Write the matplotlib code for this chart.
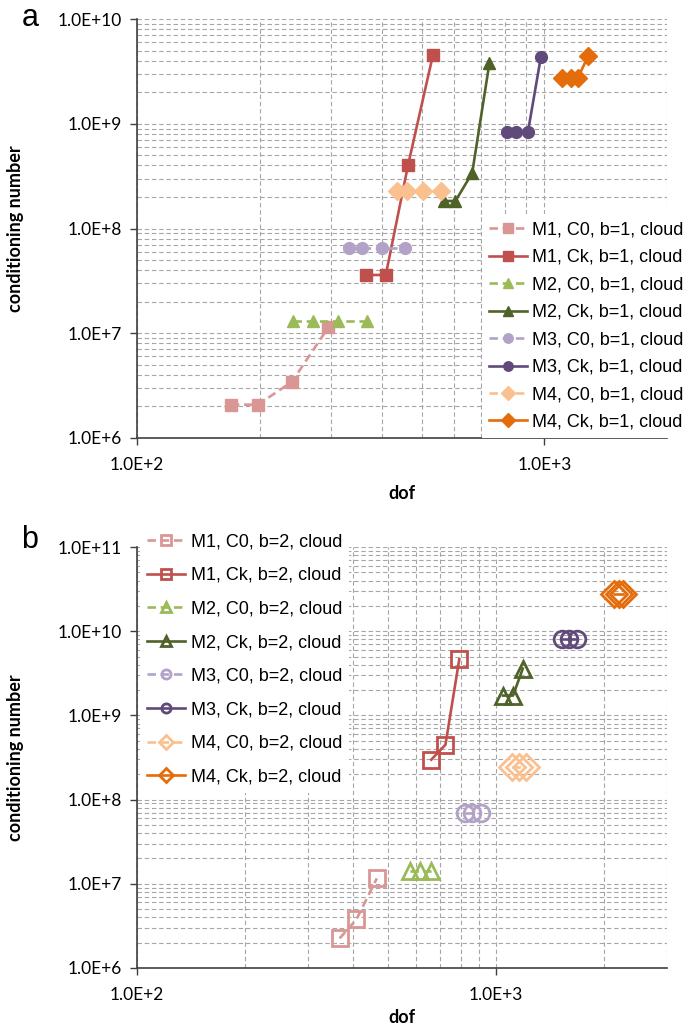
import matplotlib
matplotlib.use("Agg")
import matplotlib.pyplot as plt
from matplotlib.ticker import LogLocator, FuncFormatter, NullFormatter
import numpy as np

# --- panel a data (b=1) ---
a_m1_c0_dof = [170, 198, 240, 295]
a_m1_c0_cond = [2.08e6, 2.08e6, 3.44e6, 1.14e7]
a_m1_ck_dof = [364, 408, 463, 533]
a_m1_ck_cond = [3.6e7, 3.6e7, 4.06e8, 4.58e9]
a_m2_c0_dof = [242, 270, 312, 367]
a_m2_c0_cond = [1.3e7, 1.3e7, 1.3e7, 1.3e7]
a_m2_ck_dof = [567, 605, 665, 733]
a_m2_ck_cond = [1.83e8, 1.83e8, 3.39e8, 3.8e9]
a_m3_c0_dof = [331, 357, 400, 455]
a_m3_c0_cond = [6.5e7, 6.5e7, 6.5e7, 6.5e7]
a_m3_ck_dof = [810, 854, 911, 980]
a_m3_ck_cond = [8.3e8, 8.3e8, 8.3e8, 4.3e9]
a_m4_c0_dof = [435, 460, 504, 558]
a_m4_c0_cond = [2.3e8, 2.3e8, 2.3e8, 2.3e8]
a_m4_ck_dof = [1104, 1164, 1210, 1281]
a_m4_ck_cond = [2.76e9, 2.76e9, 2.76e9, 4.45e9]

# --- panel b data (b=2) ---
b_m1_c0_dof = [367, 409, 466]
b_m1_c0_cond = [2.25e6, 3.78e6, 1.16e7]
b_m1_ck_dof = [661, 724, 791]
b_m1_ck_cond = [2.98e8, 4.49e8, 4.64e9]
b_m2_c0_dof = [575, 614, 658]
b_m2_c0_cond = [1.41e7, 1.41e7, 1.41e7]
b_m2_ck_dof = [1047, 1117, 1189]
b_m2_ck_cond = [1.72e9, 1.72e9, 3.6e9]
b_m3_c0_dof = [822, 861, 912]
b_m3_c0_cond = [6.95e7, 6.95e7, 6.95e7]
b_m3_ck_dof = [1531, 1603, 1679]
b_m3_ck_cond = [7.98e9, 7.98e9, 7.98e9]
b_m4_c0_dof = [1109, 1161, 1216]
b_m4_c0_cond = [2.44e8, 2.44e8, 2.44e8]
b_m4_ck_dof = [2138, 2198, 2265]
b_m4_ck_cond = [2.75e10, 2.75e10, 2.75e10]

labels_a = ["M1, C0, b=1, cloud", "M1, Ck, b=1, cloud", "M2, C0, b=1, cloud", "M2, Ck, b=1, cloud",
            "M3, C0, b=1, cloud", "M3, Ck, b=1, cloud", "M4, C0, b=1, cloud", "M4, Ck, b=1, cloud"]
labels_b = [s.replace("b=1", "b=2") for s in labels_a]

colors = ["#D99694", "#C0504D", "#9BBB59", "#4F6228", "#B3A2C7", "#604A7B", "#FAC090", "#E46C0A"]
markers = ["s", "s", "^", "^", "o", "o", "D", "D"]
dashed = (0, (3.2, 1.8))
styles = [dashed, "-", dashed, "-", dashed, "-", dashed, "-"]

series_a = [(a_m1_c0_dof, a_m1_c0_cond), (a_m1_ck_dof, a_m1_ck_cond),
            (a_m2_c0_dof, a_m2_c0_cond), (a_m2_ck_dof, a_m2_ck_cond),
            (a_m3_c0_dof, a_m3_c0_cond), (a_m3_ck_dof, a_m3_ck_cond),
            (a_m4_c0_dof, a_m4_c0_cond), (a_m4_ck_dof, a_m4_ck_cond)]
series_b = [(b_m1_c0_dof, b_m1_c0_cond), (b_m1_ck_dof, b_m1_ck_cond),
            (b_m2_c0_dof, b_m2_c0_cond), (b_m2_ck_dof, b_m2_ck_cond),
            (b_m3_c0_dof, b_m3_c0_cond), (b_m3_ck_dof, b_m3_ck_cond),
            (b_m4_c0_dof, b_m4_c0_cond), (b_m4_ck_dof, b_m4_ck_cond)]

W, H = 691, 1031
fig = plt.figure(figsize=(W / 100, H / 100), dpi=100)

def px_axes(left, top, right, bottom):
    return fig.add_axes([left / W, 1 - bottom / H, (right - left) / W, (bottom - top) / H])

ax_a = px_axes(137, 19, 667, 438)
ax_b = px_axes(137, 547, 667, 968)

tick_font = "Lato"
legend_font = "Liberation Sans"

def exp_fmt(v, pos):
    return "1.0E+%d" % int(round(np.log10(v)))

def style_axes(ax, xlim, ylim, dof_y):
    ax.set_xscale("log")
    ax.set_yscale("log")
    ax.set_xlim(*xlim)
    ax.set_ylim(*ylim)
    ax.xaxis.set_major_locator(LogLocator(base=10, numticks=10))
    ax.yaxis.set_major_locator(LogLocator(base=10, numticks=10))
    ax.xaxis.set_minor_locator(LogLocator(base=10, subs=np.arange(2, 10), numticks=20))
    ax.yaxis.set_minor_locator(LogLocator(base=10, subs=np.arange(2, 10), numticks=20))
    ax.xaxis.set_major_formatter(FuncFormatter(exp_fmt))
    ax.yaxis.set_major_formatter(FuncFormatter(exp_fmt))
    ax.xaxis.set_minor_formatter(NullFormatter())
    ax.yaxis.set_minor_formatter(NullFormatter())
    ax.grid(True, which="both", color="#A6A6A6", linestyle=(0, (4, 2.5)), linewidth=0.8)
    ax.set_axisbelow(True)
    for s in ["top", "right"]:
        ax.spines[s].set_visible(False)
    for s in ["left", "bottom"]:
        ax.spines[s].set_color("#404040")
        ax.spines[s].set_linewidth(1.2)
    ax.tick_params(which="major", direction="out", length=5, width=1.0, color="#404040",
                   labelsize=12.5)
    ax.tick_params(axis="y", which="major", pad=6)
    ax.tick_params(axis="x", which="major", pad=9)
    ax.tick_params(which="minor", length=0)
    for lab in ax.get_xticklabels() + ax.get_yticklabels():
        lab.set_family(tick_font)
    ax.set_xlabel("dof", fontsize=13, fontweight="bold", family=tick_font)
    ax.set_ylabel("conditioning number", fontsize=13, fontweight="bold", family=tick_font)
    ax.xaxis.set_label_coords(0.5, dof_y)
    ax.yaxis.set_label_coords(-113 / 530, 0.5)

# panel a
for (x, y), c, m, ls, lab in zip(series_a, colors, markers, styles, labels_a):
    ms = 9 if m == "D" else 8.5
    ax_a.plot(x, y, color=c, marker=m, linestyle=ls, linewidth=1.9, markersize=ms,
              markeredgecolor=c, markerfacecolor=c, label=lab)
style_axes(ax_a, (100, 2000), (1e6, 1e10), -0.112)
leg_a = ax_a.legend(loc="lower right", bbox_to_anchor=(1.0, 1 - 438 / H), bbox_transform=fig.transFigure,
                    frameon=True, fancybox=False, edgecolor="none", facecolor="white", framealpha=1,
                    prop={"family": legend_font, "size": 13}, handlelength=2.1, handletextpad=0.3,
                    labelspacing=0.58, borderaxespad=0, borderpad=0.4, markerscale=0.8)

# panel b
for (x, y), c, m, ls, lab in zip(series_b, colors, markers, styles, labels_b):
    ms = 13 if m == "D" else 12
    ax_b.plot(x, y, color=c, marker=m, linestyle=ls, linewidth=1.9, markersize=ms,
              markeredgecolor=c, markerfacecolor="none", markeredgewidth=2.0, label=lab)
style_axes(ax_b, (100, 3000), (1e6, 1e11), -0.097)
leg_b = ax_b.legend(loc="upper left", bbox_to_anchor=(140 / W, 1 - 526 / H), bbox_transform=fig.transFigure,
                    frameon=True, fancybox=False, edgecolor="none", facecolor="white", framealpha=1,
                    prop={"family": legend_font, "size": 13}, handlelength=2.1, handletextpad=0.3,
                    labelspacing=0.92, borderaxespad=0, borderpad=0.4, markerscale=0.55)

fig.text(30 / W, 1 - 18 / H, "a", fontsize=22, family=legend_font, ha="center", va="center")
fig.text(30 / W, 1 - 540 / H, "b", fontsize=22, family=legend_font, ha="center", va="center")

fig.savefig("out.png", dpi=100)
